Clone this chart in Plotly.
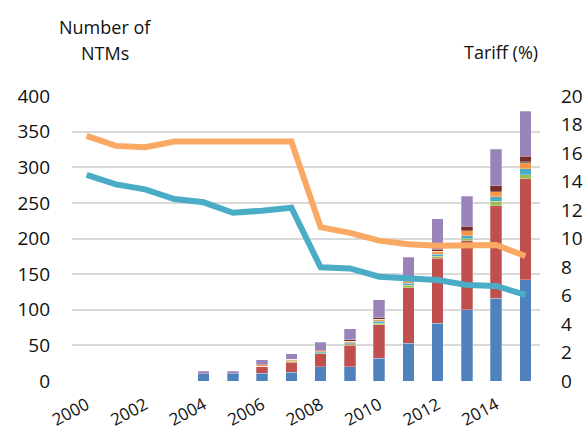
import plotly.graph_objects as go

years = list(range(2000, 2016))

# NTM counts by type (stacked), 2000-2015
s_blue     = [0, 0, 0, 0, 10, 10, 11, 12, 20, 20, 32, 53, 81, 100, 116, 142]
s_red      = [0, 0, 0, 0, 0, 0, 10, 14, 18, 30, 47, 78, 91, 97, 130, 142]
s_green    = [0, 0, 0, 0, 0, 0, 0, 2, 2, 2.5, 2, 3.5, 3, 3, 6.5, 5.5]
s_cyan     = [0, 0, 0, 0, 0, 0, 0, 0.5, 1, 1.5, 3, 2.5, 3, 4, 6, 8.5]
s_orange   = [0, 0, 0, 0, 0, 0, 1.5, 2, 1.5, 2, 3, 2.5, 4, 7, 7, 8]
s_navy     = [0, 0, 0, 0, 0, 0, 0, 0, 0, 0, 0, 0, 0, 0, 0, 1.5]
s_darkred  = [0, 0, 0, 0, 0, 0, 0, 0, 0, 2, 2, 0.5, 3, 6, 8.5, 8]
s_purple   = [0, 0, 0, 0, 4, 4, 7.5, 7.5, 12, 15, 25, 34, 43, 42, 51.5, 63]

# Tariff lines (%)
tariff_orange = [17.2, 16.5, 16.4, 16.8, 16.8, 16.8, 16.8, 16.8, 10.8, 10.4, 9.85, 9.6, 9.5, 9.47, 9.54, 8.77]
tariff_blue   = [14.46, 13.8, 13.45, 12.77, 12.54, 11.81, 11.95, 12.16, 7.98, 7.9, 7.32, 7.2, 7.09, 6.74, 6.67, 6.04]

x_ticks = [2000, 2002, 2004, 2006, 2008, 2010, 2012, 2014]
left_ticks = [0, 50, 100, 150, 200, 250, 300, 350, 400]
right_ticks = [0, 2, 4, 6, 8, 10, 12, 14, 16, 18, 20]

FONT = "Open Sans"
fig = go.Figure()

stack = [
    (s_blue, "#4F81BD"),
    (s_red, "#C0504D"),
    (s_green, "#9BBB59"),
    (s_cyan, "#4BACC6"),
    (s_orange, "#F79646"),
    (s_navy, "#2C4D75"),
    (s_darkred, "#772C2A"),
    (s_purple, "#9983B8"),
]
for vals, col in stack:
    fig.add_trace(go.Bar(x=years, y=vals, marker=dict(color=col, line=dict(color="rgba(255,255,255,0.35)", width=0.8)),
                         width=0.4, showlegend=False))

fig.add_trace(go.Scatter(x=years, y=tariff_orange, yaxis="y2", mode="lines",
                         line=dict(color="#F9A964", width=6), showlegend=False))
fig.add_trace(go.Scatter(x=years, y=tariff_blue, yaxis="y2", mode="lines",
                         line=dict(color="#4BACC6", width=6), showlegend=False))

fig.update_layout(
    width=587, height=430,
    margin=dict(l=72, r=47, t=96, b=49, autoexpand=False),
    barmode="stack",
    plot_bgcolor="white", paper_bgcolor="white",
    font=dict(family=FONT, size=19, color="#111111"),
    xaxis=dict(range=[1999.5, 2015.5], tickvals=x_ticks, ticktext=[str(v) for v in x_ticks],
               tickangle=-28, showgrid=False, zeroline=False, showline=False, ticks="",
               tickfont=dict(size=17), automargin=False, ticklabelstandoff=10, ticklabelshift=0),
    yaxis=dict(range=[0, 400], tickvals=left_ticks, showgrid=True, gridcolor="#D9D9D9", gridwidth=1.5,
               zeroline=False, showline=False, ticks="", ticklabelstandoff=21, automargin=False),
    yaxis2=dict(range=[0, 20], tickvals=right_ticks, overlaying="y", side="right", showgrid=False,
                zeroline=False, showline=False, ticks="", ticklabelstandoff=20, automargin=False),
    annotations=[
        dict(text="Number of", x=(105 - 72) / 468, y=(381 - 27) / 285, xref="paper", yref="paper",
             showarrow=False, font=dict(size=18), xanchor="center", yanchor="middle"),
        dict(text="NTMs", x=(105 - 72) / 468, y=(381 - 53) / 285, xref="paper", yref="paper",
             showarrow=False, font=dict(size=18), xanchor="center", yanchor="middle"),
        dict(text="Tariff (%)", x=(501 - 72) / 468, y=(381 - 52) / 285, xref="paper", yref="paper",
             showarrow=False, font=dict(size=18), xanchor="center", yanchor="middle"),
    ],
)

fig.write_html("out.html", config={"displayModeBar": False})
with open("out.html", encoding="utf-8") as f:
    html = f.read()
html = html.replace("<head>", "<head><style>html,body{margin:0;padding:0;overflow:hidden;}</style>", 1)
with open("out.html", "w", encoding="utf-8") as f:
    f.write(html)
